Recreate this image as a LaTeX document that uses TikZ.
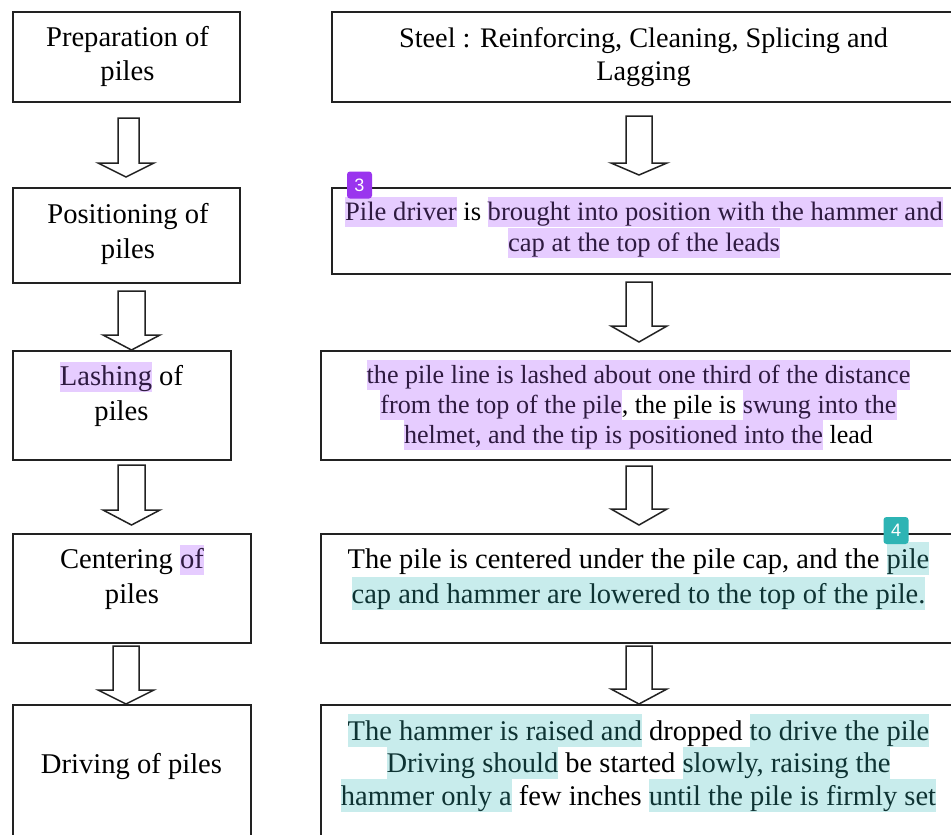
\documentclass[tikz,border=0pt]{standalone}
\usepackage{fontspec}
\setmainfont{Liberation Serif}
\newfontfamily\badgefont{Liberation Sans}
\definecolor{hlpurple}{HTML}{E6CCFF}
\definecolor{hlteal}{HTML}{C8ECEC}
\definecolor{txtpurple}{HTML}{2E1A40}
\definecolor{txtteal}{HTML}{0E3333}
\definecolor{badgepurple}{HTML}{9A35EE}
\definecolor{badgeteal}{HTML}{2DB4B4}
\definecolor{linegray}{HTML}{222222}
\newcommand\nolskip{\lineskiplimit -100pt\relax}
\newcommand\hlP[1]{{\setlength{\fboxsep}{0pt}\colorbox{hlpurple}{\rule[-7pt]{0pt}{30.5pt}\textcolor{txtpurple}{#1}}}}
\newcommand\hlT[1]{{\setlength{\fboxsep}{0pt}\colorbox{hlteal}{\rule[-6.5pt]{0pt}{32.5pt}\textcolor{txtteal}{#1}}}}
\newcommand\blockarrow[7]{%
  \draw[barrow] (#1,#3) -- (#2,#3) -- (#2,#6) -- (#5,#6) -- ({(#4+#5)/2},#7) -- (#4,#6) -- (#1,#6) -- cycle;}
\tikzset{
  box/.style={draw=linegray, line width=1.5pt, rectangle, inner sep=0pt, anchor=north west},
  barrow/.style={draw=linegray, line width=1.5pt, fill=white, line join=miter},
  txt/.style={inner sep=0pt, align=center, anchor=base},
  badge/.style={rounded corners=3pt, minimum width=25pt, minimum height=27pt, inner sep=0pt,
    text=white, font=\badgefont\fontsize{18}{18}\selectfont},
}
\begin{document}
\begin{tikzpicture}[x=1pt,y=-1pt]
\useasboundingbox (0,0) rectangle (951,835);
\clip (0,0) rectangle (951,835);
\fill[white] (0,0) rectangle (951,835);
% left boxes
\node[box, minimum width=227pt, minimum height=90pt] (L1) at (12,11) {};
\node[box, minimum width=227pt, minimum height=95pt] (L2) at (12,187) {};
\node[box, minimum width=218pt, minimum height=109pt] (L3) at (12,350) {};
\node[box, minimum width=238pt, minimum height=109pt] (L4) at (12,533) {};
\node[box, minimum width=238pt, minimum height=150pt] (L5) at (12,704) {};
% right boxes
\node[box, minimum width=629pt, minimum height=90pt] (R1) at (331,11) {};
\node[box, minimum width=629pt, minimum height=86pt] (R2) at (331,187) {};
\node[box, minimum width=640pt, minimum height=109pt] (R3) at (320,350) {};
\node[box, minimum width=640pt, minimum height=109pt] (R4) at (320,533) {};
\node[box, minimum width=640pt, minimum height=150pt] (R5) at (320,704) {};
% left arrows
\blockarrow{118}{139}{118}{98}{154}{163}{177}
\blockarrow{118}{145}{291}{103}{160}{335}{350}
\blockarrow{118}{145}{465}{103}{160}{510}{525}
\blockarrow{113}{139}{646}{98}{154}{690}{704}
% right arrows
\blockarrow{626}{652}{116}{611}{667}{163}{175}
\blockarrow{626}{652}{282}{611}{667}{326}{342}
\blockarrow{626}{652}{466}{611}{667}{509}{525}
\blockarrow{626}{652}{646}{611}{667}{689}{704}
% left texts (anchor = baseline of last line)
\node[txt, font=\fontsize{28.6}{33.5}\selectfont] (L1t) at (127.5,80) {Preparation of\\piles};
\node[txt, font=\fontsize{28.6}{35}\selectfont] (L2t) at (128,258) {Positioning of\\piles};
\node[txt, font=\fontsize{28.6}{35}\selectfont\nolskip] (L3t) at (121.5,420) {\hlP{Lashing} of\\piles};
\node[txt, font=\fontsize{28.6}{35}\selectfont\nolskip] (L4t) at (132,603) {Centering \hlP{of}\\piles};
\node[txt, font=\fontsize{28.6}{35}\selectfont] (L5t) at (131.5,773) {Driving of piles};
% right texts
\node[txt, font=\fontsize{28.3}{33}\selectfont] (R1t) at (643.5,80) {Steel : Reinforcing, Cleaning, Splicing and\\Lagging};
\node[txt, font=\fontsize{26.6}{31}\selectfont\nolskip] (R2t) at (644,251)
  {\hlP{Pile driver} is \hlP{brought into position with the hammer and}\\\hlP{cap at the top of the leads}};
\node[txt, font=\fontsize{26.1}{30}\selectfont\nolskip] (R3t) at (638.5,443)
  {\hlP{the pile line is lashed about one third of the distance}\\
   \hlP{from the top of the pile}, the pile is \hlP{swung into the}\\
   \hlP{helmet, and the tip is positioned into the} lead};
\node[txt, font=\fontsize{28.5}{35}\selectfont\nolskip] (R4t) at (638.5,603)
  {The pile is centered under the pile cap, and the \hlT{pile}\\
   \hlT{cap and hammer are lowered to the top of the pile.}};
\node[txt, font=\fontsize{28.5}{32.5}\selectfont\nolskip] (R5t) at (638.5,805)
  {\hlT{The hammer is raised and} dropped \hlT{to drive the pile}\\
   \hlT{Driving should} be started \hlT{slowly, raising the}\\
   \hlT{hammer only a} few inches \hlT{until the pile is firmly set}};
% badges
\node[badge, fill=badgepurple] (B3) at (359.5,185) {3};
\node[badge, fill=badgeteal] (B4) at (896,530.5) {4};
\end{tikzpicture}
\end{document}
